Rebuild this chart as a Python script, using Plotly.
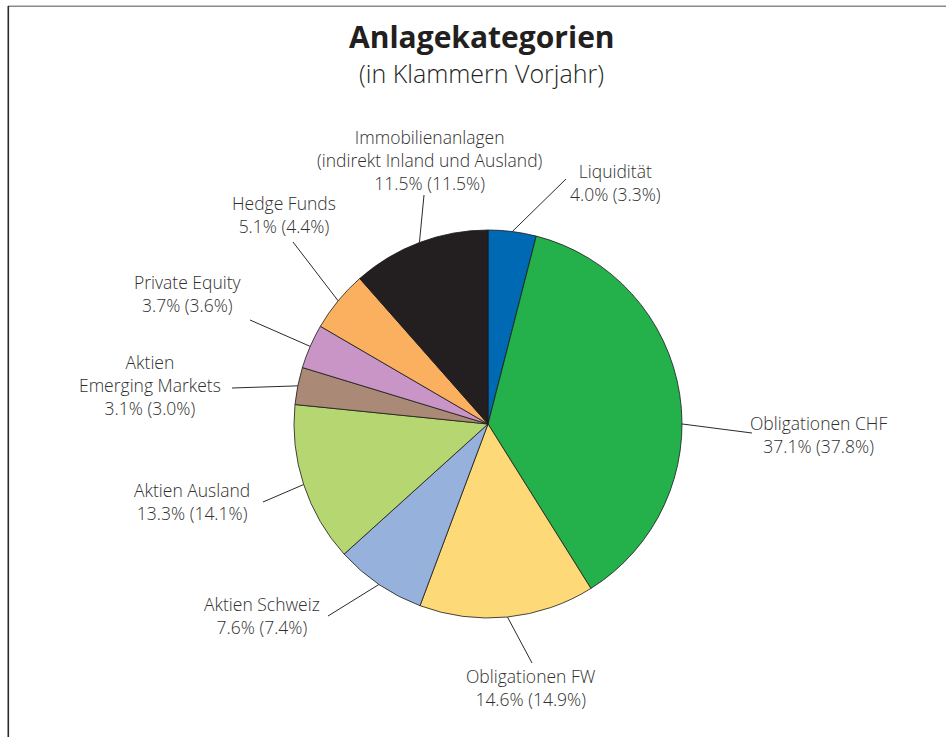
import math
import plotly.graph_objects as go

# ---------------- data ----------------
categories = [
    "Liquidität",
    "Obligationen CHF",
    "Obligationen FW",
    "Aktien Schweiz",
    "Aktien Ausland",
    "Aktien<br>Emerging Markets",
    "Private Equity",
    "Hedge Funds",
    "Immobilienanlagen<br>(indirekt Inland und Ausland)",
]
values_current = [4.0, 37.1, 14.6, 7.6, 13.3, 3.1, 3.7, 5.1, 11.5]
values_previous = [3.3, 37.8, 14.9, 7.4, 14.1, 3.0, 3.6, 4.4, 11.5]

title_text = "Anlagekategorien"
subtitle_text = "(in Klammern Vorjahr)"

# ---------------- style / layout ----------------
colors = ["#0069b4", "#24b04b", "#fdd978", "#96b2dc", "#b6d672",
          "#aa8a77", "#c995c6", "#fbb05f", "#231f20"]

W, H = 946, 737
CX, CY, R = 488, 424, 194          # pie centre and radius in pixels
FONT = "Open Sans"
TXT = "#303030"

# label centres (pixels) and leader line outer ends (pixels)
label_pos = [(615, 183), (818, 434), (531, 687), (262, 615), (192, 501),
             (150, 385), (188, 294), (284, 214), (430, 160)]
leader_end = [(566, 179), (752, 433), (532, 663), (328, 616), (263, 502),
              (232, 388), (250, 320), (293, 242), (424, 195)]
attach_frac = [0.5, 0.566, 0.5, 0.5, 0.5, 0.5, 0.5, 0.5, 0.5]


def px(x):
    return x / W


def py(y):
    return 1 - y / H


fig = go.Figure()
fig.add_trace(go.Pie(
    labels=categories,
    values=values_current,
    sort=False,
    direction="clockwise",
    rotation=0,
    textinfo="none",
    hoverinfo="label+percent",
    marker=dict(colors=colors, line=dict(color="#1a1a1a", width=0.8)),
    domain=dict(x=[px(CX - R), px(CX + R)], y=[py(CY + R), py(CY - R)]),
    showlegend=False,
))

annotations = []
shapes = []
total = sum(values_current)
cum = 0.0
for i, (name, cur, prev) in enumerate(zip(categories, values_current, values_previous)):
    start = cum / total * 360
    end = (cum + cur) / total * 360
    cum += cur
    ang = math.radians(start + (end - start) * attach_frac[i])
    ex = CX + R * math.sin(ang)
    ey = CY - R * math.cos(ang)
    ox, oy = leader_end[i]
    shapes.append(dict(type="line", xref="paper", yref="paper",
                       x0=px(ex), y0=py(ey), x1=px(ox), y1=py(oy),
                       line=dict(color="#2a2a2a", width=1)))
    lx, ly = label_pos[i]
    annotations.append(dict(
        xref="paper", yref="paper", x=px(lx), y=py(ly),
        xanchor="center", yanchor="middle", showarrow=False, align="center",
        text=f"{name}<br>{cur:.1f}% ({prev:.1f}%)",
        font=dict(family=FONT, size=17.5, color=TXT, weight=300)))

annotations.append(dict(xref="paper", yref="paper", x=px(482), y=py(36),
                        xanchor="center", yanchor="middle", showarrow=False,
                        text=f"<b>{title_text}</b>",
                        font=dict(family=FONT, size=30, color="#231f20")))
annotations.append(dict(xref="paper", yref="paper", x=px(481), y=py(72.5),
                        xanchor="center", yanchor="middle", showarrow=False,
                        text=subtitle_text,
                        font=dict(family=FONT, size=25, color="#231f20", weight=300)))

# frame
shapes.append(dict(type="line", xref="paper", yref="paper",
                   x0=px(8), y0=py(6.3), x1=px(W), y1=py(6.3),
                   line=dict(color="#8a8a8a", width=1.6)))
shapes.append(dict(type="line", xref="paper", yref="paper",
                   x0=px(8.3), y0=py(6), x1=px(8.3), y1=py(H),
                   line=dict(color="#2a2a2a", width=1.6)))

fig.update_layout(
    width=W, height=H,
    margin=dict(l=0, r=0, t=0, b=0),
    paper_bgcolor="white", plot_bgcolor="white",
    annotations=annotations, shapes=shapes,
    font=dict(family=FONT, color=TXT),
)

fig.write_html("out.html", config={"displayModeBar": False},
               post_script="document.body.style.margin='0';document.body.style.overflow='hidden';")
